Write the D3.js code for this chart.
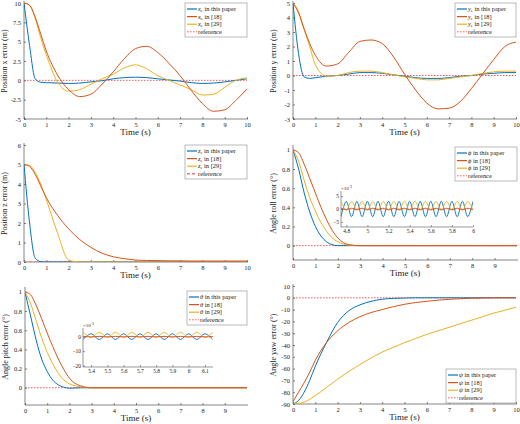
<!DOCTYPE html>
<html><head><meta charset="utf-8">
<script src="https://cdn.jsdelivr.net/npm/d3@7"></script>
<style>body{margin:0;background:#fff}svg{font-family:"Liberation Serif","DejaVu Serif",serif}</style>
</head><body><svg id="c" width="520" height="424"></svg>
<script>
const T = [0,0.25,0.5,0.75,1,1.5,2,2.5,3,3.5,4,4.5,5,5.5,6,6.5,7,7.5,8,8.5,9,9.5,10];
const TA = [0,0.25,0.5,0.75,1,1.25,1.5,1.75,2,2.5,3,3.5,4,4.5,5,5.5,6,6.5,7,7.5,8,8.5,9,9.5,10];
// Panel 1 x
const xBlue = [10,4.5,0.2,-0.25,-0.3,-0.35,-0.4,-0.35,-0.2,-0.05,0.2,0.35,0.4,0.35,0.2,0.05,-0.1,-0.3,-0.4,-0.35,-0.2,0,0.2];
const xRed = [10,9.7,8.2,6,3.8,0.7,-1.2,-2.1,-1.8,-0.5,1.1,2.8,4.1,4.4,3.6,2.2,0.6,-1.3,-3.0,-4.0,-3.8,-2.6,-1.1];
const xYel = [10,9.7,8,5.5,3.3,-0.2,-1.4,-1.2,-0.5,0.2,0.8,1.6,2.0,1.5,0.6,0,-0.6,-1.2,-1.9,-1.8,-0.9,0,0.3];
// Panel 2 y
const yBlue = [5,1.5,-0.1,-0.2,-0.15,-0.05,0,0.1,0.2,0.2,0.15,0.05,-0.05,-0.15,-0.2,-0.2,-0.15,-0.05,0,0.1,0.15,0.2,0.2];
const yRed = [5,4.3,3.2,2.2,1.4,0.65,0.8,1.6,2.35,2.45,2.2,1.3,0.1,-1.0,-1.9,-2.3,-2.25,-1.8,-0.9,0.1,1.1,2.0,2.3];
const yYel = [5,4.4,3.2,2.0,0.75,-0.05,0,0.2,0.3,0.3,0.2,0.05,-0.1,-0.2,-0.3,-0.3,-0.2,-0.1,0,0.15,0.25,0.3,0.3];
// Panel 3 z
const zBlue = [5,2.0,0.2,0.02,0,0,0,0,0,0,0,0,0,0,0,0,0,0,0,0,0,0,0];
const zRed = [5,4.9,4.5,3.9,3.3,2.4,1.7,1.15,0.75,0.45,0.27,0.17,0.1,0.08,0.07,0.06,0.06,0.05,0.05,0.05,0.05,0.05,0.05];
const zYel = [5,4.95,4.6,4.0,3.2,1.5,0.1,0,0,0,0,0,0,0,0,0,0,0,0,0,0,0,0];
// Panel 4 phi
const phiBlue = [1,0.8,0.55,0.35,0.2,0.1,0.04,0.01,0,0,0,0,0,0,0,0,0,0,0,0,0,0,0,0,0];
const phiRed = [1,0.97,0.85,0.7,0.55,0.4,0.27,0.16,0.08,0.01,0,0,0,0,0,0,0,0,0,0,0,0,0,0,0];
const phiYel = [1,0.88,0.68,0.5,0.36,0.24,0.15,0.08,0.04,0.005,0,0,0,0,0,0,0,0,0,0,0,0,0,0,0];
// Panel 5 theta
const thBlue = [1,0.75,0.5,0.3,0.17,0.08,0.03,0.005,-0.005,0,0,0,0,0,0,0,0,0,0,0,0,0,0,0,0];
const thRed = [1,0.97,0.86,0.72,0.57,0.43,0.3,0.19,0.1,0.02,0,0,0,0,0,0,0,0,0,0,0,0,0,0,0];
const thYel = [1,0.88,0.7,0.52,0.37,0.25,0.15,0.08,0.04,0.01,0,0,0,0,0,0,0,0,0,0,0,0,0,0,0];
// Panel 6 psi
const psiBlue = [-90,-87,-80,-70,-58,-38,-21,-11,-6,-3,-1.2,-0.5,-0.2,0,0,0,0,0,0,0,0,0,0];
const psiRed = [-88,-80,-72,-63,-53,-38,-28,-21,-16,-12.5,-10,-7.5,-5.5,-4,-3,-2,-1.3,-0.8,-0.4,-0.2,0,0,0];
const psiYel = [-90,-89.5,-88.5,-86,-83,-76,-69,-62.5,-56.5,-51,-46,-42,-38,-34.5,-31,-28,-25,-22,-19,-16,-13,-10.5,-8];
// Inset data (x10^-3)
const TI4 = d3.range(26).map(i=>+(4.75+i*0.05).toFixed(2));
const inBlue4 = [-3,3,-3,3,-3,3,-3,3,-3,3,-3,3,-3,3,-3,3,-3,3,-3,3,-3,3,-3,3,-3,3];
const inRed4 = [0.3,-0.3,0.3,-0.3,0.3,-0.3,0.3,-0.3,0.3,-0.3,0.3,-0.3,0.3,-0.3,0.3,-0.3,0.3,-0.3,0.3,-0.3,0.3,-0.3,0.3,-0.3,0.3,-0.3];
const inYel4 = [3,-0.5,3,-0.5,3,-0.5,3,-0.5,3,-0.5,3,-0.5,3,-0.5,3,-0.5,3,-0.5,3,-0.5,3,-0.5,3,-0.5,3,-0.5];
const TI5 = d3.range(17).map(i=>+(5.35+i*0.05).toFixed(2));
const inBlue5 = [-2,2,-2,2,-2,2,-2,2,-2,2,-2,2,-2,2,-2,2,-2];
const inRed5 = [0.2,-0.2,0.2,-0.2,0.2,-0.2,0.2,-0.2,0.2,-0.2,0.2,-0.2,0.2,-0.2,0.2,-0.2,0.2];
const inYel5 = [3,-0.5,3,-0.5,3,-0.5,3,-0.5,3,-0.5,3,-0.5,3,-0.5,3,-0.5,3];

const C = {b:"#0072BD", r:"#D95319", y:"#EDB120", ref:"#ff2a2a"};
const svg = d3.select("#c");

function panel(o){
  const g = svg.append("g");
  const x = d3.scaleLinear().domain(o.xd).range([o.l,o.r]);
  const y = d3.scaleLinear().domain(o.yd).range([o.b,o.t]);
  const ax = g.append("g").attr("transform",`translate(0,${o.b})`).call(d3.axisBottom(x).tickValues(o.xt).tickSize(-2).tickPadding(3).tickFormat(d=>String(d)));
  const ay = g.append("g").attr("transform",`translate(${o.l},0)`).call(d3.axisLeft(y).tickValues(o.yt).tickSize(-2).tickPadding(3).tickFormat(d=>String(d)));
  [ax,ay].forEach(a=>{a.selectAll("text").attr("font-size",o.fs||6.5).attr("fill","#222").style("font-family","Liberation Serif");a.selectAll("line,path").attr("stroke","#333").attr("stroke-width",0.6);});
  ay.select(".domain").attr("d",`M0,${o.b}V${o.t-2}`);
  ax.select(".domain").attr("d",`M${o.l},0H${o.r+1}`);
  const clip = "cl"+Math.round(o.l)+"_"+Math.round(o.t);
  g.append("clipPath").attr("id",clip).append("rect").attr("x",o.l).attr("y",o.t-3).attr("width",o.r-o.l+2).attr("height",o.b-o.t+3);
  const pg = g.append("g").attr("clip-path",`url(#${clip})`);
  pg.append("line").attr("x1",x(o.xd[0])).attr("x2",x(o.xd[1])).attr("y1",y(0)).attr("y2",y(0))
    .attr("stroke",o.refDash?"#ff7070":C.ref).attr("stroke-width",o.refDash?1.4:0.8).attr("stroke-dasharray",o.refDash?"3,2":"1.5,1.5");
  const line = d3.line().x((d,i)=>x(o.T[i])).y(d=>y(d)).curve(d3.curveMonotoneX);
  o.series.forEach(s=>pg.append("path").attr("d",line(s.v)).attr("fill","none").attr("stroke",s.c).attr("stroke-width",1));
  g.append("text").attr("x",(o.l+o.r)/2).attr("y",o.b+16).attr("text-anchor","middle").attr("font-size",9).attr("fill","#222").text("Time (s)");
  g.append("text").attr("transform",`translate(${o.l-17},${(o.t+o.b)/2}) rotate(-90)`).attr("text-anchor","middle").attr("font-size",8).attr("fill","#222").text(o.ylab);
  const L = o.leg;
  g.append("rect").attr("x",L.x).attr("y",L.y).attr("width",L.w).attr("height",34).attr("fill","#fff").attr("stroke","#777").attr("stroke-width",0.5);
  const items=[{c:C.b,t:" in this paper"},{c:C.r,t:" in [18]"},{c:C.y,t:" in [29]"},{c:o.refDash?"#ff7070":C.ref,t:"reference",ref:1}];
  items.forEach((it,i)=>{
    const yy=L.y+6+i*7.6;
    g.append("line").attr("x1",L.x+2).attr("x2",L.x+12).attr("y1",yy).attr("y2",yy).attr("stroke",it.c)
      .attr("stroke-width",it.ref?(o.refDash?1.4:0.8):1.2).attr("stroke-dasharray",it.ref?(o.refDash?"3,2":"1.5,1.5"):null);
    const t=g.append("text").attr("x",L.x+13).attr("y",yy+2).attr("font-size",6.4).attr("fill","#222");
    if(!it.ref){t.append("tspan").attr("font-style","italic").text(o.sym);
      if(o.sub) t.append("tspan").attr("font-size",4.5).attr("dy",1.2).text(o.sub);
      t.append("tspan").attr("dy",o.sub?-1.2:0).text(it.t);}
    else t.text(it.t);
  });
  if(o.inset){
    const I=o.inset;
    const ix=d3.scaleLinear().domain(I.xd).range([I.l,I.r]);
    const iy=d3.scaleLinear().domain(I.yd).range([I.b,I.t]);
    g.append("rect").attr("x",I.l).attr("y",I.t).attr("width",I.r-I.l).attr("height",I.b-I.t).attr("fill","#fff");
    const iax=g.append("g").attr("transform",`translate(0,${I.b})`).call(d3.axisBottom(ix).tickValues(I.xt).tickSize(-2).tickPadding(2).tickFormat(d=>String(d)));
    const iay=g.append("g").attr("transform",`translate(${I.l},0)`).call(d3.axisLeft(iy).tickValues(I.yt).tickSize(-2).tickPadding(2));
    [iax,iay].forEach(a=>{a.selectAll("text").attr("font-size",5.5).attr("fill","#222").style("font-family","Liberation Serif");a.selectAll("line,path").attr("stroke","#333").attr("stroke-width",0.5);});
    iay.select(".domain").attr("d",`M0,${I.b}V${I.t}`);
    iax.select(".domain").attr("d",`M${I.l},0H${I.r}`);
    const ic="ic"+Math.round(I.l);
    g.append("clipPath").attr("id",ic).append("rect").attr("x",I.l).attr("y",I.t).attr("width",I.r-I.l).attr("height",I.b-I.t);
    const ig=g.append("g").attr("clip-path",`url(#${ic})`);
    ig.append("line").attr("x1",I.l).attr("x2",I.r).attr("y1",iy(0)).attr("y2",iy(0)).attr("stroke",C.ref).attr("stroke-width",0.6).attr("stroke-dasharray","1.5,1.5");
    const il=d3.line().x((d,i)=>ix(I.T[i])).y(d=>iy(d)).curve(d3.curveCardinal);
    I.series.forEach(s=>ig.append("path").attr("d",il(s.v)).attr("fill","none").attr("stroke",s.c).attr("stroke-width",0.9));
    const et=g.append("text").attr("x",I.l).attr("y",I.t-1).attr("font-size",5).attr("fill","#222");
    et.append("tspan").text("×10");et.append("tspan").attr("font-size",3.8).attr("dy",-2).text("-3");
  }
}
const xt10=d3.range(0,11), xt9=d3.range(0,10);
panel({l:24,r:247,t:3,b:119,xd:[0,10],yd:[-5,10],xt:xt10,yt:[-5,-2.5,0,2.5,5,7.5,10],T:T,ylab:"Position x error (m)",
  series:[{c:C.b,v:xBlue},{c:C.y,v:xYel},{c:C.r,v:xRed}],sym:"x",sub:"e",leg:{x:185,y:3,w:62}});
panel({l:293,r:516,t:3,b:119,xd:[0,10],yd:[-3,5],xt:xt10,yt:d3.range(-3,6),T:T,ylab:"Position y error (m)",
  series:[{c:C.b,v:yBlue},{c:C.y,v:yYel},{c:C.r,v:yRed}],sym:"y",sub:"e",leg:{x:455,y:3,w:61}});
panel({l:24,r:247,t:145,b:262,xd:[0,10],yd:[0,6],xt:xt10,yt:d3.range(0,7),T:T,ylab:"Position z error (m)",refDash:true,
  series:[{c:C.b,v:zBlue},{c:C.y,v:zYel},{c:C.r,v:zRed}],sym:"z",sub:"e",leg:{x:185,y:145,w:62}});
panel({l:293,r:517,t:147,b:260,xd:[0,10],yd:[-0.15,1.03],xt:xt9,yt:[0,0.2,0.4,0.6,0.8,1],T:TA,ylab:"Angle roll error (°)",
  series:[{c:C.b,v:phiBlue},{c:C.y,v:phiYel},{c:C.r,v:phiRed}],sym:"ϕ",leg:{x:455,y:147,w:62},
  inset:{l:341,r:473,t:191,b:227,xd:[4.75,6],yd:[-7,7],xt:[4.8,5,5.2,5.4,5.6,5.8,6],yt:[-5,0,5],T:TI4,
    series:[{c:C.b,v:inBlue4},{c:C.y,v:inYel4},{c:C.r,v:inRed4}]}});
panel({l:25,r:247,t:289,b:405,xd:[0,10],yd:[-0.18,1.03],xt:xt9,yt:[0,0.2,0.4,0.6,0.8,1],T:TA,ylab:"Angle pitch error (°)",
  series:[{c:C.b,v:thBlue},{c:C.y,v:thYel},{c:C.r,v:thRed}],sym:"θ",leg:{x:187,y:291,w:60},
  inset:{l:83,r:213,t:328,b:367,xd:[5.35,6.15],yd:[-21,6],xt:[5.4,5.5,5.6,5.7,5.8,5.9,6,6.1],yt:[-20,-10,0],T:TI5,
    series:[{c:C.b,v:inBlue5},{c:C.y,v:inYel5},{c:C.r,v:inRed5}]}});
panel({l:293,r:516,t:286,b:404,xd:[0,10],yd:[-90,10],xt:xt10,yt:d3.range(-90,11,10),T:T,ylab:"Angle yaw error (°)",
  series:[{c:C.b,v:psiBlue},{c:C.y,v:psiYel},{c:C.r,v:psiRed}],sym:"ψ",leg:{x:446,y:369,w:70}});
</script></body></html>
